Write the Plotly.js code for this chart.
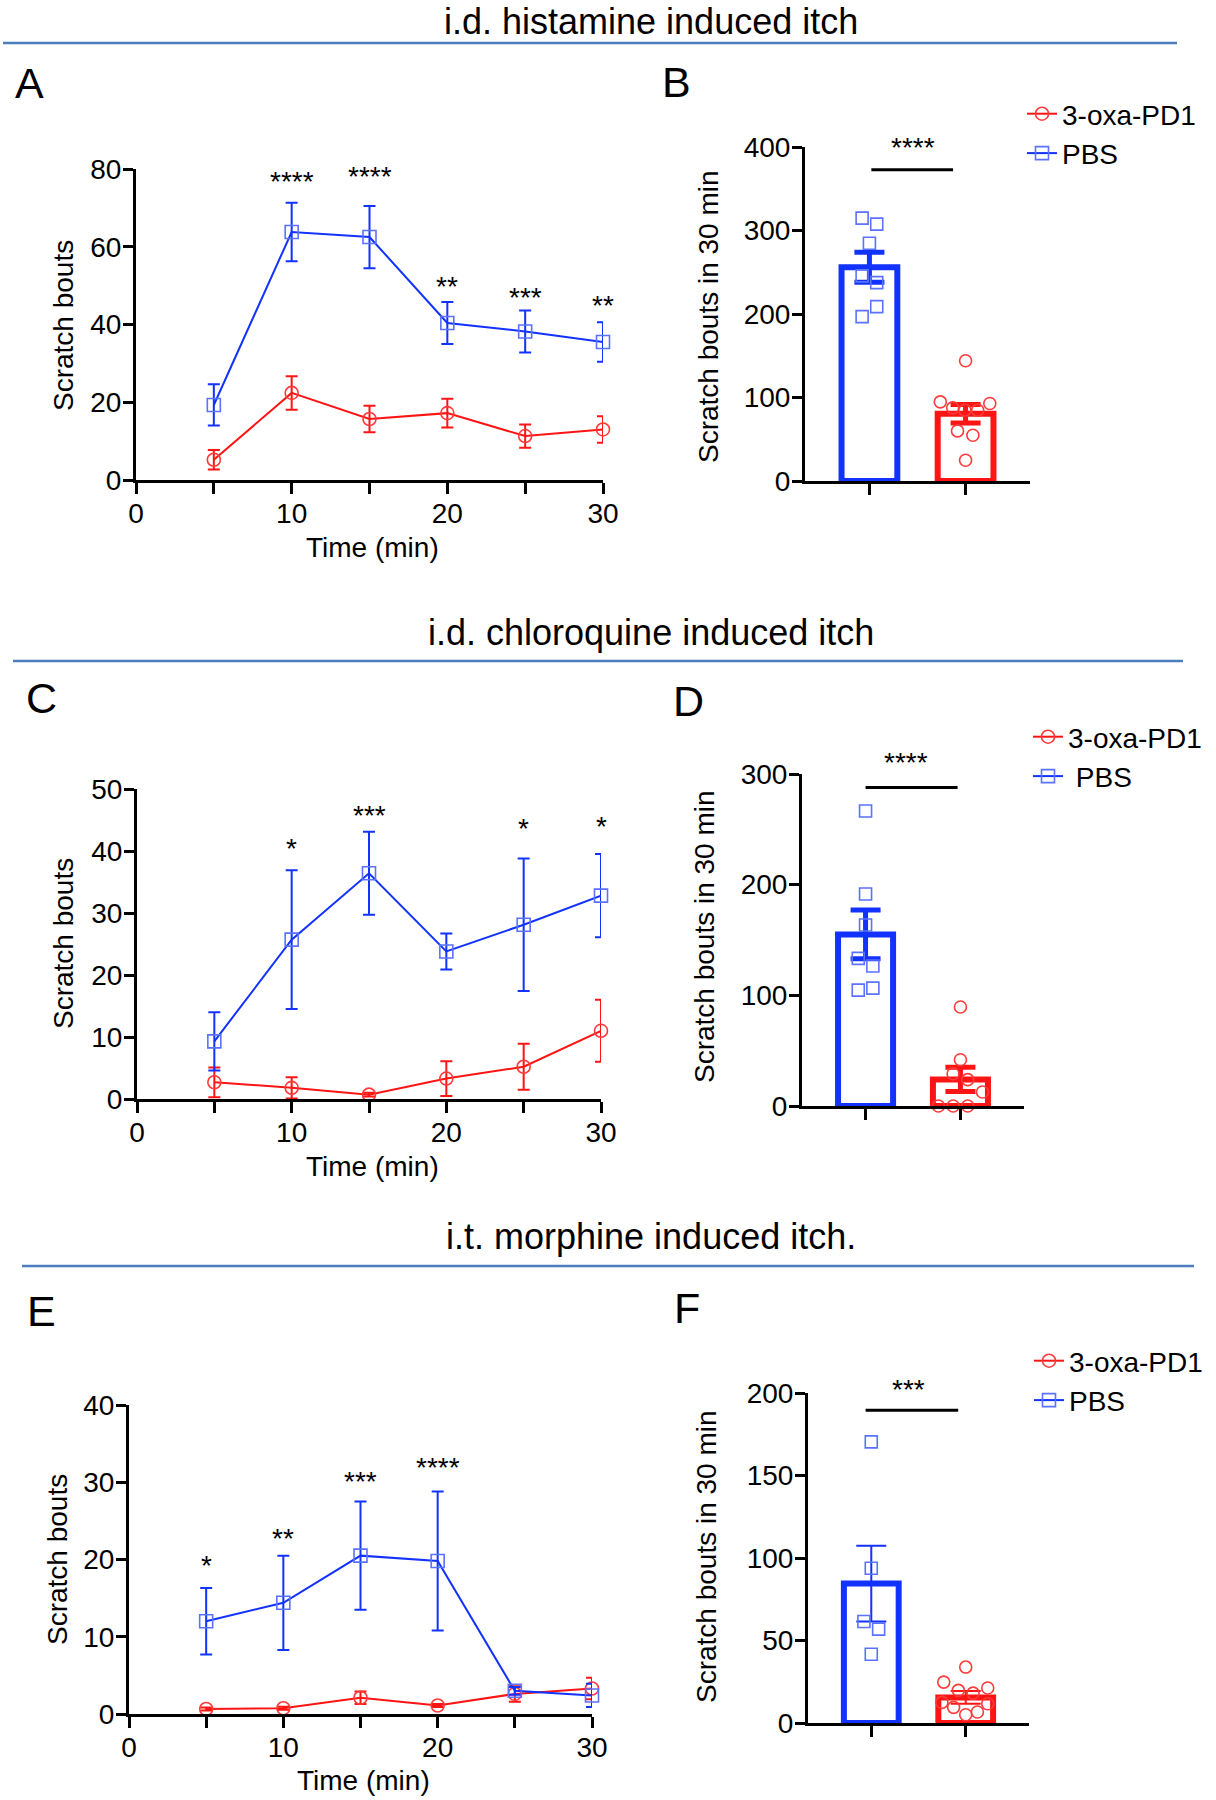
<!DOCTYPE html>
<html><head><meta charset="utf-8">
<script src="https://cdn.plot.ly/plotly-3.0.1.min.js"></script>
<style>body{margin:0;background:#fff}#chart{width:1216px;height:1800px}</style>
</head><body><div id="chart"></div>
<script>
// ================= DATA =================
const timeMin = [5, 10, 15, 20, 25, 30];
const xTickVals = [0, 5, 10, 15, 20, 25, 30];
const xTickText = ['0', '', '10', '', '20', '', '30'];
const groupNames = ['3-oxa-PD1', 'PBS'];

// A: i.d. histamine (time course)
const histOxaMean = [5.2, 22.4, 15.7, 17.2, 11.3, 13.0];
const histOxaSem  = [2.5, 4.3, 3.4, 3.7, 3.0, 3.4];
const histPbsMean = [19.3, 63.8, 62.5, 40.4, 38.2, 35.5];
const histPbsSem  = [5.3, 7.5, 8.0, 5.4, 5.4, 5.1];
const histStars   = ['', '****', '****', '**', '***', '**'];

// B: histamine total 30 min
const histTotPbsMean = 256;  const histTotPbsSem = 18;
const histTotOxaMean = 80.5; const histTotOxaSem = 11;
const histTotPbsPts = [314.8, 307.6, 284.8, 245.6, 237.6, 208.8, 196.8];
const histTotOxaPts = [144, 94.8, 92.8, 87.6, 84.8, 84.8, 60, 54.8, 24.8];
const histTotStars = '****';

// C: i.d. chloroquine (time course)
const chloOxaMean = [2.7, 1.8, 0.7, 3.3, 5.2, 11.0];
const chloOxaSem  = [2.4, 1.7, 0.3, 2.8, 3.7, 5.0];
const chloPbsMean = [9.3, 25.7, 36.4, 23.8, 28.1, 32.8];
const chloPbsSem  = [4.7, 11.2, 6.7, 2.9, 10.7, 6.7];
const chloStars   = ['', '*', '***', '', '*', '*'];

// D: chloroquine total 30 min
const chloTotPbsMean = 155; const chloTotPbsSem = 22;
const chloTotOxaMean = 24;  const chloTotOxaSem = 11;
const chloTotPbsPts = [266.5, 191.6, 163.6, 133.4, 126.5, 104.7, 106.5];
const chloTotOxaPts = [89.5, 41.8, 29.1, 23.8, 12.7, 0, 0, 0];
const chloTotStars = '****';

// E: i.t. morphine (time course)
const morOxaMean = [0.65, 0.75, 2.1, 1.1, 2.6, 3.3];
const morOxaSem  = [0.2, 0.2, 0.8, 0.2, 1.0, 1.4];
const morPbsMean = [12.0, 14.4, 20.5, 19.8, 3.0, 2.4];
const morPbsSem  = [4.3, 6.1, 7.0, 9.0, 0.5, 1.5];
const morStars   = ['*', '**', '***', '****', '', ''];

// F: morphine total 30 min
const morTotPbsMean = 84.5; const morTotPbsSem = 23;
const morTotOxaMean = 15.5; const morTotOxaSem = 3.9;
const morTotPbsPts = [170.4, 93.8, 61.5, 56.9, 41.7];
const morTotOxaPts = [33.9, 24.8, 21.2, 19.8, 18.1, 12.5, 11.7, 9.5, 6.7, 5.0];
const morTotStars = '***';

const sectionTitles = ['i.d. histamine induced itch', 'i.d. chloroquine induced itch', 'i.t. morphine induced itch.'];
const panelLetters = ['A', 'B', 'C', 'D', 'E', 'F'];
const yTitleLine = 'Scratch bouts';
const yTitleBar = 'Scratch bouts in 30 min';
const xTitleLine = 'Time (min)';

// ================= LAYOUT / STYLE (pixels) =================
const W = 1216, H = 1800;
const FONT = 'Liberation Sans, Arial, Helvetica, sans-serif';
const BLUE = '#1232ff', BLUE_MK = '#5a72ff', RED = '#ff1414', RED_MK = '#ff3a3a';
const px = v => v / W;
const py = v => 1 - v / H;

// plot boxes [left, right, top, bottom]
const box = {
  A: [136, 603, 169, 480], B: [805, 1030, 147, 481],
  C: [137, 601, 789, 1099], D: [802, 1024, 774, 1106],
  E: [129, 592, 1405, 1714], F: [808, 1029, 1393, 1723]
};
// jitter of dots in bar panels (category units)
const jitHistPbs = [-0.076, 0.076, 0, -0.076, 0.076, 0.076, -0.076];
const jitHistOxa = [0, -0.263, 0.252, -0.134, -0.008, 0.126, -0.084, 0.076, 0];
const jitChloPbs = [0, 0, 0, -0.077, 0.077, -0.077, 0.077];
const jitChloOxa = [0, 0, -0.077, 0.077, 0.232, -0.232, -0.077, 0.077];
const jitMorPbs = [0, 0, -0.078, 0.078, 0];
const jitMorOxa = [0, -0.233, 0.233, -0.078, 0.078, -0.252, 0.233, -0.128, 0.124, 0];

// star heights (data units of asterisk centre)
const starYHist = [null, 77.3, 78.6, 50.3, 47.4, 45.5];
const starYChlo = [null, 40.8, 46, null, 44, 44.3];
const starYMor  = [19.5, 23, 30.3, 32.2, null, null];
const STAR_SHIFT = -2;

const data = [];
const annotations = [];
const shapes = [];
const layout = {
  width: W, height: H, margin: {l: 0, r: 0, t: 0, b: 0},
  paper_bgcolor: '#fff', plot_bgcolor: 'rgba(0,0,0,0)',
  font: {family: FONT, size: 28, color: '#000'},
  barmode: 'overlay', showlegend: true
};

function axisCommon() {
  return {showline: true, linecolor: '#000', linewidth: 3, ticks: 'outside', tickcolor: '#000',
          tickwidth: 3, ticklen: 10, showgrid: false, zeroline: false, fixedrange: true,
          tickfont: {family: FONT, size: 28, color: '#000'}};
}

function setAxes(n, b, xr, yr, ydtick, isBar) {
  const xk = n === 1 ? 'xaxis' : 'xaxis' + n;
  const yk = n === 1 ? 'yaxis' : 'yaxis' + n;
  const xa = Object.assign(axisCommon(), {
    domain: [px(b[0]), px(b[1])], range: xr, anchor: n === 1 ? 'y' : 'y' + n, ticklen: 11,
    ticklabelstandoff: -5
  });
  if (isBar) { xa.tickvals = [1, 2]; xa.ticktext = ['', '']; }
  else { xa.tickvals = xTickVals; xa.ticktext = xTickText; }
  const ya = Object.assign(axisCommon(), {
    domain: [py(b[3]), py(b[2])], range: yr, anchor: n === 1 ? 'x' : 'x' + n, dtick: ydtick, tick0: 0,
    ticklabelstandoff: -4
  });
  layout[xk] = xa; layout[yk] = ya;
}

function linePanel(n, oxaM, oxaS, pbsM, pbsS, legendId, pbsName, stars, starY) {
  const xr = n === 1 ? 'x' : 'x' + n, yr = n === 1 ? 'y' : 'y' + n;
  data.push({
    type: 'scatter', mode: 'lines+markers', x: timeMin, y: oxaM, xaxis: xr, yaxis: yr,
    name: groupNames[0], legend: legendId, cliponaxis: false,
    line: {color: RED, width: 2},
    marker: {symbol: 'circle-open', size: 13, color: RED_MK, line: {width: 1.6, color: RED_MK}},
    error_y: {type: 'data', array: oxaS, visible: true, color: RED, thickness: 2, width: 6}
  });
  data.push({
    type: 'scatter', mode: 'lines+markers', x: timeMin, y: pbsM, xaxis: xr, yaxis: yr,
    name: pbsName, legend: legendId, cliponaxis: false,
    line: {color: BLUE, width: 2},
    marker: {symbol: 'square-open', size: 13, color: BLUE_MK, line: {width: 1.6, color: BLUE_MK}},
    error_y: {type: 'data', array: pbsS, visible: true, color: BLUE, thickness: 2, width: 6}
  });
  stars.forEach((s, i) => {
    if (!s) return;
    annotations.push({xref: xr, yref: yr, x: timeMin[i], y: starY[i], text: s, showarrow: false,
      xanchor: 'center', yanchor: 'middle', yshift: STAR_SHIFT, font: {size: 28, color: '#000', family: FONT}});
  });
}

function barPanel(n, pbsM, pbsS, oxaM, oxaS, pbsPts, oxaPts, jp, jo, stars, sig, errThick) {
  const xr = 'x' + n, yr = 'y' + n;
  data.push({type: 'bar', x: [1], y: [pbsM], xaxis: xr, yaxis: yr, width: 0.58, showlegend: false,
    marker: {color: 'rgba(255,255,255,0)', line: {color: BLUE, width: 6}},
    error_y: {type: 'data', array: [pbsS], visible: true, color: BLUE, thickness: errThick, width: 15}});
  data.push({type: 'bar', x: [2], y: [oxaM], xaxis: xr, yaxis: yr, width: 0.58, showlegend: false,
    marker: {color: 'rgba(255,255,255,0)', line: {color: RED, width: 6}},
    error_y: {type: 'data', array: [oxaS], visible: true, color: RED, thickness: errThick, width: 15}});
  data.push({type: 'scatter', mode: 'markers', x: pbsPts.map((v, i) => 1 + jp[i]), y: pbsPts,
    xaxis: xr, yaxis: yr, showlegend: false, cliponaxis: false,
    marker: {symbol: 'square-open', size: 12, color: BLUE_MK, line: {width: 1.6, color: BLUE_MK}}});
  data.push({type: 'scatter', mode: 'markers', x: oxaPts.map((v, i) => 2 + jo[i]), y: oxaPts,
    xaxis: xr, yaxis: yr, showlegend: false, cliponaxis: false,
    marker: {symbol: 'circle-open', size: 12, color: RED_MK, line: {width: 1.6, color: RED_MK}}});
  shapes.push({type: 'line', xref: xr, yref: yr, x0: sig.x0, x1: sig.x1, y0: sig.y, y1: sig.y,
    line: {color: '#000', width: 3}});
  // star label sits above the axis top, so it is placed in page coordinates
  annotations.push({xref: 'paper', yref: 'paper', x: px(sig.sx), y: py(sig.sy), text: stars, showarrow: false,
    xanchor: 'center', yanchor: 'middle', yshift: STAR_SHIFT, font: {size: 28, color: '#000', family: FONT}});
}

// ----- axes -----
setAxes(1, box.A, [0, 30], [0, 80], 20, false);
setAxes(2, box.B, [0.33, 2.67], [0, 400], 100, true);
setAxes(3, box.C, [0, 30], [0, 50], 10, false);
setAxes(4, box.D, [0.33, 2.67], [0, 300], 100, true);
setAxes(5, box.E, [0, 30], [0, 40], 10, false);
setAxes(6, box.F, [0.33, 2.67], [0, 200], 50, true);

// ----- traces -----
linePanel(1, histOxaMean, histOxaSem, histPbsMean, histPbsSem, 'legend', 'PBS', histStars, starYHist);
linePanel(3, chloOxaMean, chloOxaSem, chloPbsMean, chloPbsSem, 'legend2', '\u00a0PBS', chloStars, starYChlo);
linePanel(5, morOxaMean, morOxaSem, morPbsMean, morPbsSem, 'legend3', 'PBS', morStars, starYMor);

barPanel(2, histTotPbsMean, histTotPbsSem, histTotOxaMean, histTotOxaSem, histTotPbsPts, histTotOxaPts,
  jitHistPbs, jitHistOxa, histTotStars, {x0: 1.02, x1: 1.87, y: 372.8, sx: 913, sy: 145}, 5);
barPanel(4, chloTotPbsMean, chloTotPbsSem, chloTotOxaMean, chloTotOxaSem, chloTotPbsPts, chloTotOxaPts,
  jitChloPbs, jitChloOxa, chloTotStars, {x0: 1.0, x1: 1.97, y: 287.9, sx: 906, sy: 761}, 5);
barPanel(6, morTotPbsMean, morTotPbsSem, morTotOxaMean, morTotOxaSem, morTotPbsPts, morTotOxaPts,
  jitMorPbs, jitMorOxa, morTotStars, {x0: 0.94, x1: 1.92, y: 189.5, sx: 908, sy: 1387}, 2);

// ----- legends -----
const legendBase = {xanchor: 'left', yanchor: 'top', bgcolor: 'rgba(0,0,0,0)', borderwidth: 0,
  itemwidth: 30, font: {family: FONT, size: 28, color: '#000'}, traceorder: 'normal'};
layout.legend = Object.assign({}, legendBase, {x: px(1022), y: py(89)});
layout.legend2 = Object.assign({}, legendBase, {x: px(1028), y: py(712)});
layout.legend3 = Object.assign({}, legendBase, {x: px(1029), y: py(1336)});

// ----- section titles + separators -----
const titleY = [21, 632, 1236];
const sepLines = [[3, 1177, 43], [13, 1183, 661], [22, 1194, 1266]];
sectionTitles.forEach((t, i) => {
  annotations.push({xref: 'paper', yref: 'paper', x: px(651), y: py(titleY[i]), text: t, showarrow: false,
    xanchor: 'center', yanchor: 'middle', font: {size: 36, color: '#000', family: FONT}});
  const s = sepLines[i];
  shapes.push({type: 'line', xref: 'paper', yref: 'paper', x0: px(s[0]), x1: px(s[1]), y0: py(s[2]), y1: py(s[2]),
    line: {color: '#4a7ebf', width: 2.5}});
});

// ----- panel letters -----
const letterPos = [[29, 83], [676, 82], [41, 698], [688, 701], [41, 1311], [687, 1308]];
panelLetters.forEach((l, i) => {
  annotations.push({xref: 'paper', yref: 'paper', x: px(letterPos[i][0]), y: py(letterPos[i][1]), text: l,
    showarrow: false, xanchor: 'center', yanchor: 'middle', font: {size: 43, color: '#000', family: FONT}});
});

// ----- axis titles -----
const yTitles = [[63, 326, yTitleLine], [708, 317, yTitleBar], [63, 944, yTitleLine],
                 [704, 937, yTitleBar], [57, 1560, yTitleLine], [706, 1557, yTitleBar]];
yTitles.forEach(t => annotations.push({xref: 'paper', yref: 'paper', x: px(t[0]), y: py(t[1]), text: t[2],
  textangle: -90, showarrow: false, xanchor: 'center', yanchor: 'middle', font: {size: 28, color: '#000', family: FONT}}));
const xTitles = [[372, 547.5], [372, 1166], [363, 1780]];
xTitles.forEach(t => annotations.push({xref: 'paper', yref: 'paper', x: px(t[0]), y: py(t[1]), text: xTitleLine,
  showarrow: false, xanchor: 'center', yanchor: 'middle', font: {size: 28, color: '#000', family: FONT}}));

layout.annotations = annotations;
layout.shapes = shapes;

Plotly.newPlot('chart', data, layout, {staticPlot: true, displayModeBar: false});
</script>
</body></html>
